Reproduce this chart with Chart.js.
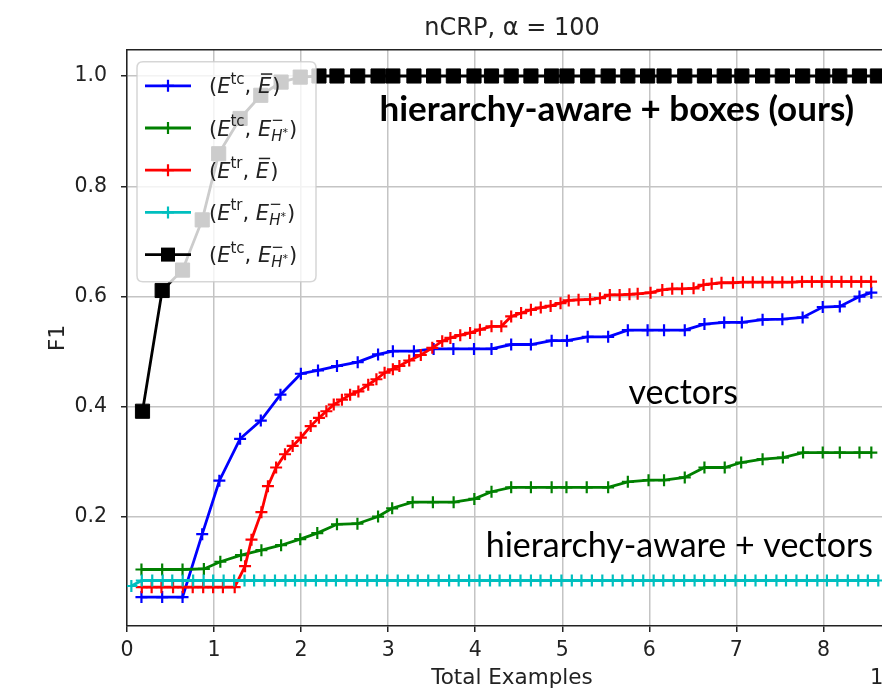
<!DOCTYPE html>
<html>
<head>
<meta charset="utf-8">
<script src="https://cdn.jsdelivr.net/npm/chart.js@4.4.0/dist/chart.umd.min.js"></script>
<style>
html, body { margin: 0; padding: 0; background: #fff; overflow: hidden; }
#wrap { width: 882px; height: 689px; overflow: hidden; position: relative; }
canvas { display: block; }
</style>
</head>
<body>
<div id="wrap"><canvas id="c" width="908" height="689"></canvas></div>
<script>
// ---------------- data ----------------
const xTickValues = [0, 1, 2, 3, 4, 5, 6, 7, 8];
const yTickValues = [0.2, 0.4, 0.6, 0.8, 1.0];

const blueX = [0.166, 0.404, 0.638, 0.864, 1.061, 1.299, 1.537, 1.763, 1.997, 2.194, 2.412, 2.650, 2.884, 3.054, 3.296, 3.522, 3.749, 3.986, 4.187, 4.413, 4.640, 4.878, 5.054, 5.292, 5.527, 5.753, 5.980, 6.169, 6.407, 6.633, 6.860, 7.063, 7.301, 7.528, 7.761, 7.992, 8.188, 8.414, 8.550];
const blueY = [0.055, 0.055, 0.055, 0.169, 0.266, 0.342, 0.375, 0.422, 0.460, 0.466, 0.474, 0.481, 0.495, 0.501, 0.501, 0.505, 0.505, 0.505, 0.505, 0.513, 0.513, 0.520, 0.520, 0.527, 0.527, 0.539, 0.539, 0.539, 0.539, 0.550, 0.553, 0.553, 0.558, 0.559, 0.562, 0.581, 0.582, 0.600, 0.607];

const greenX = [0.166, 0.404, 0.638, 0.883, 1.072, 1.310, 1.544, 1.770, 1.990, 2.186, 2.412, 2.647, 2.884, 3.046, 3.281, 3.514, 3.752, 3.990, 4.187, 4.413, 4.640, 4.878, 5.048, 5.281, 5.527, 5.753, 5.991, 6.169, 6.407, 6.633, 6.866, 7.055, 7.301, 7.534, 7.766, 7.992, 8.188, 8.414, 8.550];
const greenY = [0.105, 0.105, 0.105, 0.106, 0.119, 0.131, 0.140, 0.149, 0.160, 0.171, 0.187, 0.188, 0.201, 0.216, 0.227, 0.227, 0.227, 0.233, 0.246, 0.254, 0.254, 0.254, 0.254, 0.254, 0.254, 0.264, 0.267, 0.267, 0.272, 0.290, 0.290, 0.299, 0.305, 0.308, 0.317, 0.317, 0.317, 0.317, 0.317];

const redX = [0.170, 0.283, 0.396, 0.529, 0.642, 0.755, 0.875, 0.989, 1.102, 1.237, 1.356, 1.430, 1.544, 1.619, 1.713, 1.815, 1.903, 1.997, 2.110, 2.205, 2.290, 2.375, 2.469, 2.563, 2.658, 2.771, 2.865, 2.959, 3.054, 3.129, 3.242, 3.375, 3.507, 3.621, 3.715, 3.828, 3.941, 4.054, 4.187, 4.300, 4.413, 4.527, 4.640, 4.753, 4.866, 4.980, 5.074, 5.187, 5.319, 5.433, 5.546, 5.659, 5.772, 5.866, 6.014, 6.149, 6.263, 6.376, 6.508, 6.622, 6.716, 6.829, 6.961, 7.075, 7.188, 7.301, 7.414, 7.528, 7.641, 7.754, 7.867, 7.981, 8.094, 8.207, 8.320, 8.434, 8.547];
const redY = [0.073, 0.073, 0.073, 0.073, 0.073, 0.073, 0.073, 0.073, 0.073, 0.073, 0.111, 0.159, 0.209, 0.256, 0.290, 0.314, 0.329, 0.344, 0.365, 0.380, 0.392, 0.404, 0.413, 0.422, 0.428, 0.440, 0.450, 0.462, 0.468, 0.474, 0.484, 0.494, 0.507, 0.519, 0.525, 0.530, 0.534, 0.540, 0.546, 0.546, 0.564, 0.570, 0.576, 0.580, 0.583, 0.588, 0.593, 0.594, 0.595, 0.597, 0.603, 0.603, 0.604, 0.605, 0.607, 0.612, 0.614, 0.614, 0.615, 0.621, 0.623, 0.625, 0.625, 0.626, 0.626, 0.626, 0.626, 0.626, 0.626, 0.627, 0.627, 0.627, 0.627, 0.627, 0.627, 0.627, 0.627];

const cyanX = [0.05, 0.17, 0.29, 0.41, 0.52, 0.64, 0.76, 0.88, 0.99, 1.11, 1.23, 1.35, 1.46, 1.58, 1.70, 1.82, 1.93, 2.05, 2.17, 2.29, 2.40, 2.52, 2.64, 2.76, 2.87, 2.99, 3.11, 3.23, 3.34, 3.46, 3.58, 3.70, 3.81, 3.93, 4.05, 4.17, 4.28, 4.40, 4.52, 4.64, 4.75, 4.87, 4.99, 5.11, 5.22, 5.34, 5.46, 5.58, 5.69, 5.81, 5.93, 6.05, 6.16, 6.28, 6.40, 6.52, 6.63, 6.75, 6.87, 6.99, 7.10, 7.22, 7.34, 7.46, 7.57, 7.69, 7.81, 7.93, 8.04, 8.16, 8.28, 8.40, 8.51, 8.63];
const cyanY = [0.075, 0.085, 0.085, 0.085, 0.085, 0.085, 0.085, 0.085, 0.085, 0.085, 0.085, 0.085, 0.085, 0.085, 0.085, 0.085, 0.085, 0.085, 0.085, 0.085, 0.085, 0.085, 0.085, 0.085, 0.085, 0.085, 0.085, 0.085, 0.085, 0.085, 0.085, 0.085, 0.085, 0.085, 0.085, 0.085, 0.085, 0.085, 0.085, 0.085, 0.085, 0.085, 0.085, 0.085, 0.085, 0.085, 0.085, 0.085, 0.085, 0.085, 0.085, 0.085, 0.085, 0.085, 0.085, 0.085, 0.085, 0.085, 0.085, 0.085, 0.085, 0.085, 0.085, 0.085, 0.085, 0.085, 0.085, 0.085, 0.085, 0.085, 0.085, 0.085, 0.085, 0.085];

const blackX = [0.178, 0.404, 0.638, 0.864, 1.053, 1.299, 1.537, 1.770, 1.990, 2.205, 2.412, 2.650, 2.884, 3.054, 3.296, 3.522, 3.749, 3.986, 4.187, 4.413, 4.640, 4.878, 5.054, 5.292, 5.527, 5.753, 5.980, 6.169, 6.407, 6.633, 6.860, 7.063, 7.301, 7.528, 7.761, 7.992, 8.188, 8.414, 8.620];
const blackY = [0.392, 0.611, 0.648, 0.739, 0.859, 0.923, 0.965, 0.989, 0.998, 1.0, 1.0, 1.0, 1.0, 1.0, 1.0, 1.0, 1.0, 1.0, 1.0, 1.0, 1.0, 1.0, 1.0, 1.0, 1.0, 1.0, 1.0, 1.0, 1.0, 1.0, 1.0, 1.0, 1.0, 1.0, 1.0, 1.0, 1.0, 1.0, 1.0];

const seriesSup = ['tc', 'tc', 'tr', 'tr', 'tc'];
const seriesSecond = ['bar', 'H', 'bar', 'H', 'H'];
const titleText = 'nCRP, α = 100';
const xTitle = 'Total Examples';
const yTitle = 'F1';
const offsetText = '1e4';
const notes = [
  { text: 'hierarchy-aware + boxes (ours)', x: 2.90, y: 0.918, bold: true, size: 35 },
  { text: 'vectors', x: 5.76, y: 0.406, bold: false, size: 34 },
  { text: 'hierarchy-aware + vectors', x: 4.12, y: 0.128, bold: false, size: 34 }
];

// ---------------- helpers ----------------
const zip = (xs, ys) => xs.map((x, i) => ({ x: x, y: ys[i] }));
const colors = ['#0000ff', '#008000', '#ff0000', '#00bfbf', '#000000'];
const FONT = '"DejaVu Sans", sans-serif';
const TXT = '#222222';

function crossDataset(label, xs, ys, color, order) {
  return {
    label: label, data: zip(xs, ys), borderColor: color, backgroundColor: color,
    borderWidth: 2.8, pointStyle: 'cross', pointRadius: 6, pointBorderWidth: 2.2,
    pointBorderColor: color, tension: 0, order: order
  };
}

const datasets = [
  crossDataset('s1', blueX, blueY, colors[0], 5),
  crossDataset('s2', greenX, greenY, colors[1], 4),
  crossDataset('s3', redX, redY, colors[2], 3),
  crossDataset('s4', cyanX, cyanY, colors[3], 2),
  {
    label: 's5', data: zip(blackX, blackY), borderColor: '#000', backgroundColor: '#000',
    borderWidth: 2.8, pointStyle: 'rect', pointRadius: 10, pointBorderWidth: 1,
    pointBorderColor: '#000', pointBackgroundColor: '#000', tension: 0, order: 1
  }
];

function drawMathLabel(ctx, x, yMid, sup, kind) {
  const base = '21px ' + FONT, ital = 'italic 21px ' + FONT;
  const small = '15px ' + FONT, smallItal = 'italic 15px ' + FONT;
  const by = yMid + 7.5;
  let cx = x;
  ctx.fillStyle = TXT;
  ctx.textAlign = 'left';
  ctx.textBaseline = 'alphabetic';
  const put = (t, f, dy) => { ctx.font = f; ctx.fillText(t, cx, by + dy); const w = ctx.measureText(t).width; cx += w; return w; };
  put('(', base, 0);
  put('E', ital, 0);
  put(sup, small, -9.5);
  put(', ', base, 0);
  if (kind === 'bar') {
    const sx = cx;
    const w = put('E', ital, 0);
    ctx.fillRect(sx + 3, by - 20, w - 2, 1.5);
    cx += 1;
  } else {
    put('E', ital, 0);
    const sx = cx;
    put('\u2212', small, -10.5);
    const e1 = cx;
    cx = sx;
    put('H', smallItal, 5);
    put('*', '11px ' + FONT, 0);
    cx = Math.max(cx, e1) + 1;
  }
  put(')', base, 0);
}

const decorPlugin = {
  id: 'decor',
  afterDatasetsDraw(chart) {
    const { ctx, chartArea: a, scales } = chart;
    ctx.save();
    // top spine
    ctx.strokeStyle = TXT; ctx.lineWidth = 1.5;
    ctx.beginPath(); ctx.moveTo(a.left, a.top); ctx.lineTo(a.right, a.top); ctx.stroke();
    // annotations
    ctx.fillStyle = '#000'; ctx.textAlign = 'left'; ctx.textBaseline = 'alphabetic';
    notes.forEach(n => {
      ctx.font = (n.bold ? 'bold ' : '') + n.size + 'px Lato, sans-serif';
      ctx.fillText(n.text, scales.x.getPixelForValue(n.x), scales.y.getPixelForValue(n.y));
    });
    // offset text of the x axis
    ctx.font = '21px ' + FONT; ctx.fillStyle = TXT; ctx.textAlign = 'left'; ctx.textBaseline = 'middle';
    ctx.fillText(offsetText, 870, 679);
    ctx.restore();
  },
  afterDraw(chart) {
    const { ctx, chartArea: a } = chart;
    ctx.save();
    // legend box
    const L = a.left + 10, T = a.top + 12, W = 179, H = 220, r = 6;
    ctx.beginPath();
    ctx.moveTo(L + r, T); ctx.lineTo(L + W - r, T); ctx.quadraticCurveTo(L + W, T, L + W, T + r);
    ctx.lineTo(L + W, T + H - r); ctx.quadraticCurveTo(L + W, T + H, L + W - r, T + H);
    ctx.lineTo(L + r, T + H); ctx.quadraticCurveTo(L, T + H, L, T + H - r);
    ctx.lineTo(L, T + r); ctx.quadraticCurveTo(L, T, L + r, T); ctx.closePath();
    ctx.fillStyle = 'rgba(255,255,255,0.8)'; ctx.fill();
    ctx.strokeStyle = 'rgba(204,204,204,0.8)'; ctx.lineWidth = 1.5; ctx.stroke();
    for (let i = 0; i < 5; i++) {
      const y = T + 24 + i * 42.2;
      const x0 = L + 8, x1 = L + 54, xm = (x0 + x1) / 2;
      ctx.strokeStyle = colors[i]; ctx.lineWidth = 2.8;
      ctx.beginPath(); ctx.moveTo(x0, y); ctx.lineTo(x1, y); ctx.stroke();
      if (i === 4) {
        ctx.fillStyle = '#000'; ctx.fillRect(xm - 7, y - 7, 14, 14);
      } else {
        ctx.lineWidth = 2.2; ctx.beginPath();
        ctx.moveTo(xm - 6, y); ctx.lineTo(xm + 6, y); ctx.moveTo(xm, y - 6); ctx.lineTo(xm, y + 6); ctx.stroke();
      }
      drawMathLabel(ctx, L + 72, y, seriesSup[i], seriesSecond[i]);
    }
    ctx.restore();
  }
};

new Chart(document.getElementById('c'), {
  type: 'line',
  data: { datasets: datasets },
  plugins: [decorPlugin],
  options: {
    responsive: false, animation: false, devicePixelRatio: 1, events: [],
    layout: { padding: 0 },
    plugins: {
      legend: { display: false }, tooltip: { enabled: false },
      title: {
        display: true, text: titleText, fullSize: false, color: TXT,
        font: { family: FONT, size: 24, weight: 'normal' }, padding: { top: 14, bottom: 7 }
      }
    },
    scales: {
      x: {
        type: 'linear', min: 0, max: 8.845,
        afterBuildTicks: s => { s.ticks = xTickValues.map(v => ({ value: v })); },
        afterFit: s => { s.height = 63; },
        ticks: { color: TXT, font: { family: FONT, size: 20.5 }, padding: 6, maxRotation: 0, callback: v => String(v) },
        grid: { color: '#c4c4c4', lineWidth: 1.5, tickColor: TXT, tickWidth: 1.5, tickLength: 6 },
        border: { color: TXT, width: 1.5 },
        title: { display: true, text: xTitle, color: TXT, font: { family: FONT, size: 21.5, lineHeight: 1 }, padding: { top: 0, bottom: 0 } }
      },
      y: {
        type: 'linear', min: 0.0025, max: 1.0475,
        afterBuildTicks: s => { s.ticks = yTickValues.map(v => ({ value: v })); },
        afterFit: s => { s.width = 127; },
        ticks: { color: TXT, font: { family: FONT, size: 20.5 }, padding: 14, callback: v => v.toFixed(1) },
        grid: { color: '#c4c4c4', lineWidth: 1.5, tickColor: TXT, tickWidth: 1.5, tickLength: 6 },
        border: { color: TXT, width: 1.5 },
        title: { display: true, text: yTitle, color: TXT, font: { family: FONT, size: 21.5, lineHeight: 1 }, padding: { top: 48, bottom: 0 } }
      }
    }
  }
});
</script>
</body>
</html>
